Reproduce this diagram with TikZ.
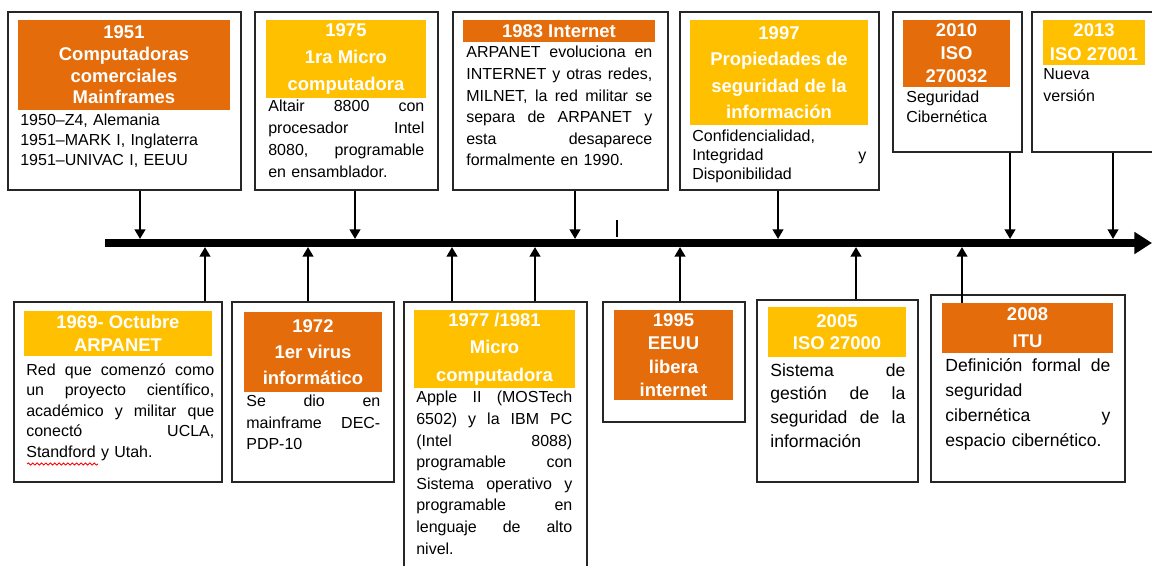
\documentclass[tikz,border=0pt]{standalone}
\usepackage{fontspec}
\setmainfont{Liberation Sans}
\usepackage{tikz}
\usetikzlibrary{arrows.meta,fit,decorations.pathmorphing}
\usepackage{xcolor}
\definecolor{naranja}{HTML}{E46C0A}
\definecolor{amarillo}{HTML}{FFC000}

\begin{document}
\begin{tikzpicture}[x=0.02cm, y=-0.02cm,
  caja/.style={draw=black!85, line width=1pt, inner sep=0pt},
  cabN/.style={inner sep=0pt, fill=naranja},
  cabA/.style={inner sep=0pt, fill=amarillo},
  tit/.style={inner sep=0pt, text=white, align=center, font=\bfseries\fontsize{10.5}{13}\selectfont},
  texto/.style={anchor=north west, inner sep=0pt, align=left, font=\fontsize{9.1}{12.3}\selectfont},
  flecha/.style={line width=1.5pt, -{Triangle[length=5.5pt,width=6pt]}},
  eje/.style={line width=4.5pt, -{Triangle[length=10pt,width=12pt]}}]
\useasboundingbox (0,0) rectangle (1152,565);

% 時間軸
\coordinate (ini) at (105,243);
\coordinate (fin) at (1152,243);
\draw[eje] (ini) -- (fin);
\draw[line width=1.3pt] (617,220) -- (617,237);

% 上段（軸の上の出来事）
\node[caja, fit={(8,12) (241,190)}] (c51) {};
\node[cabN, fit={(18,20) (230,110)}] (h51) {};
\node[tit, font=\bfseries\fontsize{10.5}{12.3}\selectfont] (l51) at (h51) {1951\\Computadoras\\comerciales\\Mainframes};
\node[texto, text width=4.3cm, font=\fontsize{9.1}{11.2}\selectfont] (x51) at (20,114) {1950–Z4, Alemania\\1951–MARK I, Inglaterra\\1951–UNIVAC I, EEUU};

\node[caja, fit={(255,12) (438,190)}] (c75) {};
\node[cabA, fit={(266,20) (426,98)}] (h75) {};
\node[tit, font=\bfseries\fontsize{10.5}{15.3}\selectfont] (l75) at (h75) {1975\\1ra Micro\\computadora};
\node[texto, text width=3.12cm, font=\fontsize{9.1}{12.5}\selectfont] (x75) at (268,100) {Altair \hfill 8800 \hfill con\\procesador \hfill Intel\\8080, \hfill programable\\en ensamblador.};

\node[caja, fit={(453,12) (668,190)}] (c83) {};
\node[cabN, fit={(463,20) (655,42)}] (h83) {};
\node[tit] (l83) at (h83) {1983 Internet};
\node[texto, text width=3.72cm] (x83) at (466,46) {ARPANET \hfill evoluciona \hfill en\\INTERNET \hfill y \hfill otras \hfill redes,\\MILNET, \hfill la \hfill red \hfill militar \hfill se\\separa \hfill de \hfill ARPANET \hfill y\\esta \hfill desaparece\\formalmente en 1990.};

\node[caja, fit={(680,12) (879,190)}] (c97) {};
\node[cabA, fit={(690,20) (868,125)}] (h97) {};
\node[tit, font=\bfseries\fontsize{10.5}{15}\selectfont] (l97) at (h97) {1997\\Propiedades de\\seguridad de la\\información};
\node[texto, text width=3.48cm, font=\fontsize{9.1}{10.8}\selectfont] (x97) at (692,130) {Confidencialidad,\\Integridad \hfill y\\Disponibilidad};

\node[caja, fit={(893,12) (1022,152)}] (c10) {};
\node[cabN, fit={(903,20) (1010,87)}] (h10) {};
\node[tit] (l10) at (h10) {2010\\ISO\\270032};
\node[texto, text width=2cm, font=\fontsize{9.1}{11.3}\selectfont] (x10) at (906,91) {Seguridad\\Cibernética};

\node[caja, fit={(1032,12) (1160,152)}] (c13) {};
\node[cabA, fit={(1043,20) (1145,65)}] (h13) {};
\node[tit, font=\bfseries\fontsize{10.5}{13.5}\selectfont] (l13) at (h13) {2013\\ISO 27001};
\node[texto, text width=2cm, font=\fontsize{9.1}{12.5}\selectfont] (x13) at (1043,68) {Nueva\\versión};

% 上段の矢印
\coordinate (t51) at (140,239);
\coordinate (t75) at (355,239);
\coordinate (t83) at (575,239);
\coordinate (t97) at (778,239);
\coordinate (t10) at (1010,239);
\coordinate (t13) at (1113,239);
\foreach \k in {51,75,83,97,10,13}
  \draw[flecha] (t\k |- c\k.south) -- (t\k);

% 下段（軸の下の出来事）
\node[caja, fit={(14,302) (222,482)}] (c69) {};
\node[cabA, fit={(24,311) (212,356)}] (h69) {};
\node[tit] (l69) at (h69) {1969- Octubre\\ARPANET};
\node[texto, text width=3.76cm, font=\fontsize{9.1}{11.7}\selectfont] (x69) at (26,363) {Red \hfill que \hfill comenzó \hfill como\\un \hfill proyecto \hfill científico,\\académico \hfill y \hfill militar \hfill que\\conectó \hfill UCLA,\\Standford y Utah.};
\draw[red, line width=0.5pt, decorate, decoration={snake, amplitude=0.6pt, segment length=2.5pt}] (27,464) -- (98,464);

\node[caja, fit={(232,302) (394,482)}] (c72) {};
\node[cabN, fit={(244,312) (382,392)}] (h72) {};
\node[tit, font=\bfseries\fontsize{10.5}{15}\selectfont] (l72) at (h72) {1972\\1er virus\\informático};
\node[texto, text width=2.68cm, font=\fontsize{9.1}{12.2}\selectfont] (x72) at (246,395) {Se \hfill dio \hfill en\\mainframe \hfill DEC-\\PDP-10};

\node[caja, fit={(404,302) (587,580)}] (c77) {};
\node[cabA, fit={(414,310) (575,388)}] (h77) {};
\node[tit, font=\bfseries\fontsize{10.5}{15.5}\selectfont] (l77) at (h77) {1977 /1981\\Micro\\computadora};
\node[texto, text width=3.12cm] (x77) at (416,391) {Apple \hfill II \hfill (MOSTech\\6502) \hfill y \hfill la \hfill IBM \hfill PC\\(Intel \hfill 8088)\\programable \hfill con\\Sistema \hfill operativo \hfill y\\programable \hfill en\\lenguaje \hfill de \hfill alto\\nivel.};

\node[caja, fit={(603,302) (745,422)}] (c95) {};
\node[cabN, fit={(614,310) (733,400)}] (h95) {};
\node[tit, font=\bfseries\fontsize{10.5}{13.3}\selectfont] (l95) at (h95) {1995\\EEUU\\libera\\internet};

\node[caja, fit={(757,300) (918,482)}] (c05) {};
\node[cabA, fit={(768,307) (906,357)}] (h05) {};
\node[tit, font=\bfseries\fontsize{10.5}{12.5}\selectfont] (l05) at (h05) {2005\\ISO 27000};
\node[texto, text width=2.7cm, font=\fontsize{10}{13.6}\selectfont] (x05) at (770,363) {Sistema \hfill de\\gestión \hfill de \hfill la\\seguridad \hfill de \hfill la\\información};

\node[caja, fit={(931,295) (1125,482)}] (c08) {};
\node[cabN, fit={(942,303) (1113,353)}] (h08) {};
\node[tit, font=\bfseries\fontsize{10.5}{15.3}\selectfont] (l08) at (h08) {2008\\ITU};
\node[texto, text width=3.3cm, font=\fontsize{10}{14.2}\selectfont] (x08) at (945,358) {Definición \hfill formal \hfill de\\seguridad\\cibernética \hfill y\\espacio cibernético.};

% 下段の矢印
\coordinate (u69) at (205,247);
\coordinate (u72) at (308,247);
\coordinate (u77a) at (452,247);
\coordinate (u77b) at (535,247);
\coordinate (u95) at (680,247);
\coordinate (u05) at (856,247);
\coordinate (u08) at (962,247);
\draw[flecha] (u69 |- c69.north) -- (u69);
\draw[flecha] (u72 |- c72.north) -- (u72);
\draw[flecha] (u77a |- c77.north) -- (u77a);
\draw[flecha] (u77b |- c77.north) -- (u77b);
\draw[flecha] (u95 |- c95.north) -- (u95);
\draw[flecha] (u05 |- c05.north) -- (u05);
\draw[flecha] (u08 |- h08.north) -- (u08);
\end{tikzpicture}
\end{document}
